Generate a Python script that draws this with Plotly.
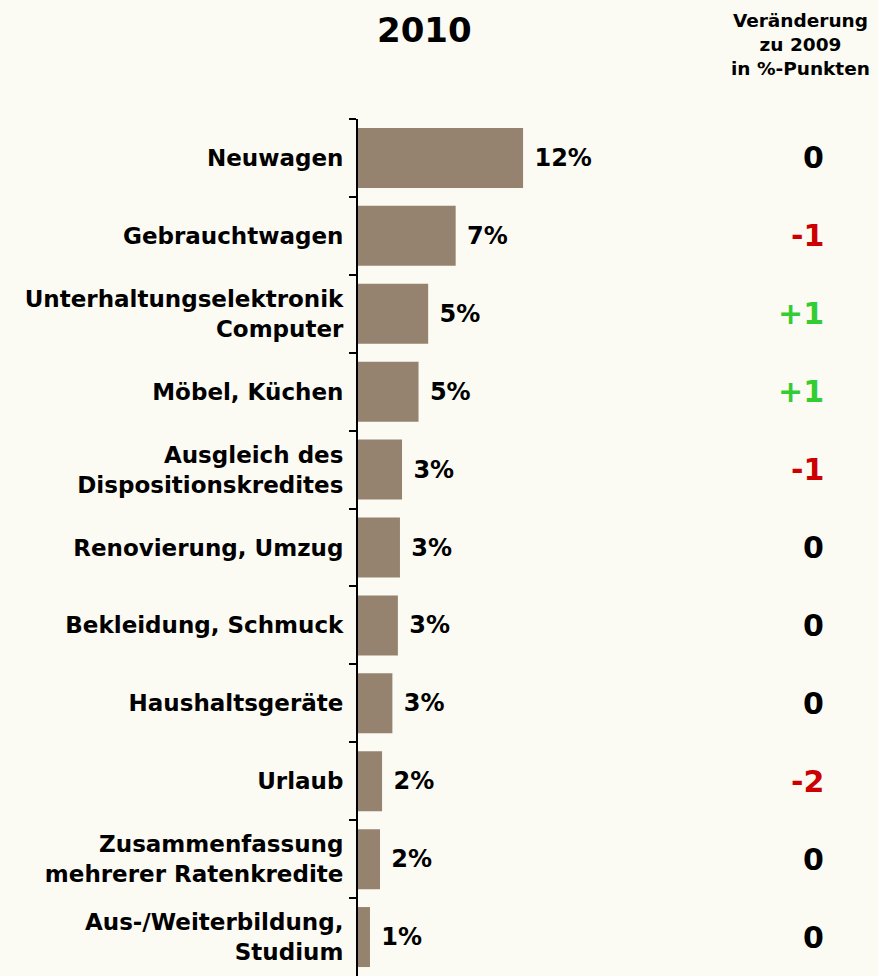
import plotly.graph_objects as go

categories = [
    "Neuwagen",
    "Gebrauchtwagen",
    "Unterhaltungselektronik<br>Computer",
    "Möbel, Küchen",
    "Ausgleich des<br>Dispositionskredites",
    "Renovierung, Umzug",
    "Bekleidung, Schmuck",
    "Haushaltsgeräte",
    "Urlaub",
    "Zusammenfassung<br>mehrerer Ratenkredite",
    "Aus-/Weiterbildung,<br>Studium",
]
values = [12.0, 7.1, 5.1, 4.4, 3.2, 3.05, 2.9, 2.5, 1.75, 1.6, 0.87]
value_labels = ["12%", "7%", "5%", "5%", "3%", "3%", "3%", "3%", "2%", "2%", "1%"]
changes = ["0", "-1", "+1", "+1", "-1", "0", "0", "0", "-2", "0", "0"]

BG = "#FCFBF3"
BAR = "#958370"
FONT = "DejaVu Sans"

def change_color(c):
    if c.startswith("+"):
        return "#33CC33"
    if c.startswith("-"):
        return "#CC0000"
    return "#000000"

fig = go.Figure()
fig.add_trace(go.Bar(
    y=categories, x=values, orientation="h",
    marker=dict(color=BAR, line=dict(width=0)),
    text=[" " + t for t in value_labels],
    textposition="outside",
    cliponaxis=False,
    textfont=dict(family=FONT, size=24, color="#000000", weight="bold"),
    hoverinfo="skip",
))

W, H = 878, 976
L, T = 358, 119
pw = W - L
ph = H - T

def px_x(x):
    return (x - L) / pw

def px_y(y):
    return (H - y) / ph

annotations = []
for cat, ch in zip(categories, changes):
    annotations.append(dict(
        x=px_x(826), xref="paper", y=cat, yref="y", xanchor="right", yanchor="middle",
        text="<b>%s</b>" % ch, showarrow=False,
        font=dict(family=FONT, size=30, color=change_color(ch)),
    ))
annotations.append(dict(
    x=px_x(424), y=px_y(30), xref="paper", yref="paper", text="<b>2010</b>",
    showarrow=False, xanchor="center", yanchor="middle",
    font=dict(family=FONT, size=34, color="#000000")))
annotations.append(dict(
    x=px_x(800), y=px_y(44), xref="paper", yref="paper",
    text="<b>Veränderung<br>zu 2009<br>in %-Punkten</b>",
    showarrow=False, xanchor="center", yanchor="middle", align="center",
    font=dict(family=FONT, size=18.5, color="#000000")))

fig.update_layout(
    width=W, height=H,
    paper_bgcolor=BG, plot_bgcolor=BG,
    margin=dict(l=L, r=0, t=T, b=0, pad=0),
    showlegend=False,
    bargap=0.23,
    font=dict(family=FONT, color="#000000"),
    xaxis=dict(range=[0, 37.8], visible=False, fixedrange=True),
    yaxis=dict(
        type="category", autorange="reversed",
        showline=True, linecolor="#000000", linewidth=2,
        ticks="outside", ticklen=7, tickwidth=2, tickcolor="#000000",
        tickson="boundaries", showgrid=False, zeroline=False,
        ticklabelstandoff=8, fixedrange=True,
        tickfont=dict(family=FONT, size=23, color="#000000", weight="bold"),
    ),
    annotations=annotations,
)

fig.write_html("out.html", config={"displayModeBar": False},
               post_script="document.body.style.margin='0px';")
